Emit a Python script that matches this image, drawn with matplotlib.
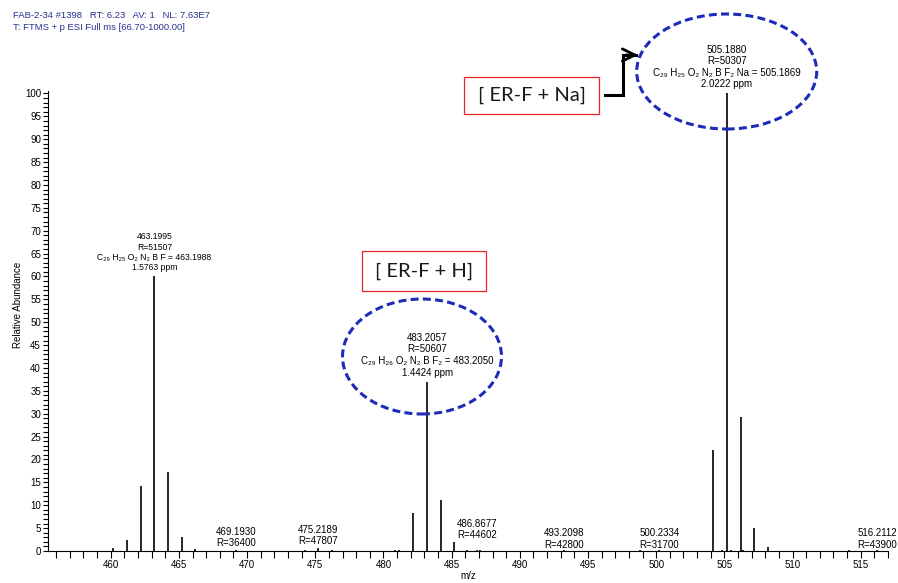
import matplotlib
matplotlib.use('Agg')
import matplotlib.pyplot as plt
from matplotlib.patches import Ellipse, Rectangle
from matplotlib.lines import Line2D
import numpy as np

plt.rcParams['font.family'] = ['Liberation Sans', 'DejaVu Sans']

W, H = 898, 583

# centroid peaks: m/z and relative abundance
mz = [460.19, 461.19, 462.19, 463.1995, 464.20, 465.20, 466.20, 469.1930,
      474.26, 475.2189, 476.22, 480.86, 481.15, 482.19, 483.2057, 484.20,
      485.20, 486.15, 486.8677, 487.10, 493.2098, 498.80, 500.2334, 504.18,
      504.85, 505.1880, 505.52, 506.19, 506.38, 507.19, 508.19, 514.15,
      516.2112]
abundance = [0.6, 2.4, 14.1, 60.0, 17.3, 3.0, 0.5, 0.2,
             0.15, 0.7, 0.3, 0.2, 0.3, 8.4, 37.0, 11.2,
             2.0, 0.3, 0.3, 0.3, 0.3, 0.2, 0.3, 22.1,
             0.3, 100.0, 0.3, 29.3, 0.3, 5.0, 0.8, 0.3,
             0.3]

# labelled peaks (accurate mass, resolution)
small_mz = [469.1930, 475.2189, 486.8677, 493.2098, 500.2334, 516.2112]
small_res = [36400, 47807, 44602, 42800, 31700, 43900]
small_dy = [1.5, 1.5, 7.0, 0.0, 0.0, 0.0]   # label lift, points

big_mz = [463.1995, 483.2057, 505.1880]
big_res = [51507, 50607, 50307]
big_formula = ['C₂₉ H₂₅ O₂ N₂ B F = 463.1988',
               'C₂₉ H₂₆ O₂ N₂ B F₂ = 483.2050',
               'C₂₉ H₂₅ O₂ N₂ B F₂ Na = 505.1869']
big_ppm = [1.5763, 1.4424, 2.0222]
big_fs = [6.2, 7.0, 7.0]

header = ['FAB-2-34 #1398   RT: 6.23   AV: 1   NL: 7.63E7',
          'T: FTMS + p ESI Full ms [66.70-1000.00]']


def fx(px):
    return px / W


def fy(py):
    return 1 - py / H


fig = plt.figure(figsize=(W / 100, H / 100), dpi=100)
ax = fig.add_axes([fx(48), fy(551), (888 - 48) / W, (551 - 91.2) / H])

ax.vlines(mz, 0, abundance, color='black', lw=1.2)

ax.set_xlim(455.4, 517.0)
ax.set_ylim(0, 100.5)
ax.set_xticks(np.arange(460, 516, 5))
ax.set_xticks(np.arange(456, 518, 1), minor=True)
ax.set_yticks(np.arange(0, 101, 5))
ax.set_yticks(np.arange(0, 101, 1), minor=True)
ax.tick_params(axis='both', which='both', direction='out', width=0.8,
               labelsize=7, pad=1.5)
ax.tick_params(axis='x', which='both', length=5)
ax.tick_params(axis='y', which='both', length=3.5)
for s in ['top', 'right']:
    ax.spines[s].set_visible(False)
for s in ['left', 'bottom']:
    ax.spines[s].set_linewidth(0.8)

# peak annotations
for m, r, dy in zip(small_mz, small_res, small_dy):
    y = abundance[mz.index(m)]
    ax.annotate('%.4f\nR=%d' % (m, r), xy=(m, y), xytext=(0, dy),
                textcoords='offset points', ha='center', va='bottom',
                fontsize=7, linespacing=1.15)

for m, r, f, p, fs in zip(big_mz, big_res, big_formula, big_ppm, big_fs):
    y = abundance[mz.index(m)]
    ax.annotate('%.4f\nR=%d\n%s\n%.4f ppm' % (m, r, f, p), xy=(m, y),
                xytext=(0, 3), textcoords='offset points', ha='center',
                va='bottom', fontsize=fs, linespacing=1.2)

fig.text(fx(468), fy(576), 'm/z', ha='center', va='center', fontsize=7)
fig.text(fx(18), fy(305), 'Relative Abundance', ha='center', va='center',
         rotation=90, fontsize=7)

fig.text(fx(13), fy(15), header[0], ha='left', va='center', fontsize=6.8,
         color='#27318f')
fig.text(fx(13), fy(27), header[1], ha='left', va='center', fontsize=6.8,
         color='#27318f')

# dashed ellipses around the adduct peaks
for cx, cy, w, h in [(422, 356.5, 159, 115), (726.7, 71.5, 180, 115)]:
    fig.patches.append(Ellipse((fx(cx), fy(cy)), w / W, h / H,
                               transform=fig.transFigure, fill=False,
                               edgecolor='#1c2bb8', lw=2.2,
                               linestyle=(0, (2.6, 1.4))))

# ion labels in red boxes
for x0, y0, x1, y1, txt in [(362, 251, 485.7, 290.7, '[ ER-F + H]'),
                            (464, 76.7, 599.3, 114, '[ ER-F + Na]')]:
    fig.patches.append(Rectangle((fx(x0), fy(y1)), (x1 - x0) / W,
                                 (y1 - y0) / H, transform=fig.transFigure,
                                 facecolor='white', edgecolor='#e8252b',
                                 lw=0.9))
    fig.text(fx((x0 + x1) / 2), fy((y0 + y1) / 2), txt, ha='center',
             va='center', fontsize=14.5, family='Lato', color='#1a1a1a')

# elbow arrow from the Na label to its ellipse
fig.add_artist(Line2D([fx(605), fx(623), fx(623), fx(636)],
                      [fy(95), fy(95), fy(55), fy(55)],
                      transform=fig.transFigure, color='black', lw=2.2,
                      solid_joinstyle='miter'))
ax.annotate('', xy=(fx(638), fy(55)), xytext=(fx(626), fy(55)),
            xycoords='figure fraction', textcoords='figure fraction',
            arrowprops=dict(arrowstyle='->,head_length=0.45,head_width=0.22',
                            lw=2.0, color='black', mutation_scale=20,
                            shrinkA=0, shrinkB=0))

fig.savefig('out.png', dpi=100)
